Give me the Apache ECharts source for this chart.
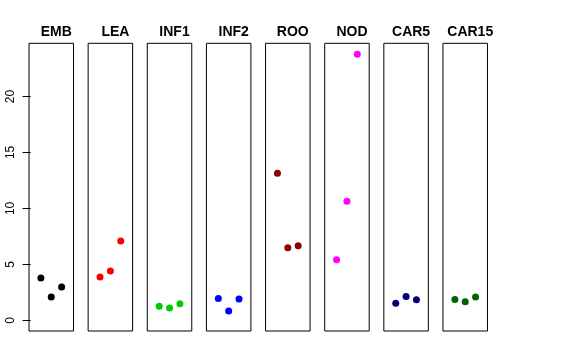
<!DOCTYPE html>
<html>
<head>
<meta charset="utf-8">
<script src="https://cdn.jsdelivr.net/npm/echarts@6/dist/echarts.min.js"></script>
<style>html,body{margin:0;padding:0;background:#fff;}#c{width:576px;height:360px;}</style>
</head>
<body>
<div id="c"></div>
<script>
const categories = ["EMB","LEA","INF1","INF2","ROO","NOD","CAR5","CAR15"];
const colors = ["#000000","#FF0000","#00CD00","#0000FF","#8B0000","#FF00FF","#000080","#006400"];
const jitterX = [1, 2, 3];
const EMB = [3.78, 2.08, 2.97];
const LEA = [3.87, 4.40, 7.08];
const INF1 = [1.25, 1.10, 1.49];
const INF2 = [1.96, 0.83, 1.90];
const ROO = [13.15, 6.49, 6.67];
const NOD = [5.42, 10.63, 23.78];
const CAR5 = [1.52, 2.14, 1.85];
const CAR15 = [1.87, 1.67, 2.08];
const yTicks = [0, 5, 10, 15, 20];
const values = [EMB, LEA, INF1, INF2, ROO, NOD, CAR5, CAR15];

(function () {
const chart = echarts.init(document.getElementById('c'), null, {renderer: 'canvas'});
const grids = [], xAxes = [], yAxes = [], series = [], titles = [];
const left0 = 29, pitch = 59.14, gw = 44.5, gTop = 43.3, gh = 287.7;
categories.forEach((cat, i) => {
  const L = left0 + i * pitch;
  grids.push({left: L, top: gTop, width: gw, height: gh, show: true, borderColor: '#000', borderWidth: 1, backgroundColor: 'transparent'});
  xAxes.push({type: 'value', gridIndex: i, min: -0.15, max: 4.15, show: false});
  yAxes.push({
    type: 'value', gridIndex: i, min: -0.95, max: 24.75,
    splitLine: {show: false},
    axisLine: {show: false},
    axisTick: {show: i === 0, length: 8, lineStyle: {color: '#000'}, customValues: yTicks},
    axisLabel: {show: i === 0, rotate: 90, margin: 12, color: '#000', fontSize: 12,
      fontFamily: 'Liberation Sans, Arial, sans-serif', customValues: yTicks}
  });
  titles.push({text: cat, left: L + gw / 2, top: 20, textAlign: 'center',
    textStyle: {fontSize: 14, fontWeight: 'bold', color: '#000', fontFamily: 'Liberation Sans, Arial, sans-serif'}});
  series.push({
    type: 'scatter', xAxisIndex: i, yAxisIndex: i, symbol: 'circle', symbolSize: 7,
    itemStyle: {color: colors[i], opacity: 1}, silent: true, animation: false,
    data: values[i].map((v, k) => [jitterX[k], v])
  });
});
chart.setOption({animation: false, title: titles, grid: grids, xAxis: xAxes, yAxis: yAxes, series: series});
})();
</script>
</body>
</html>
